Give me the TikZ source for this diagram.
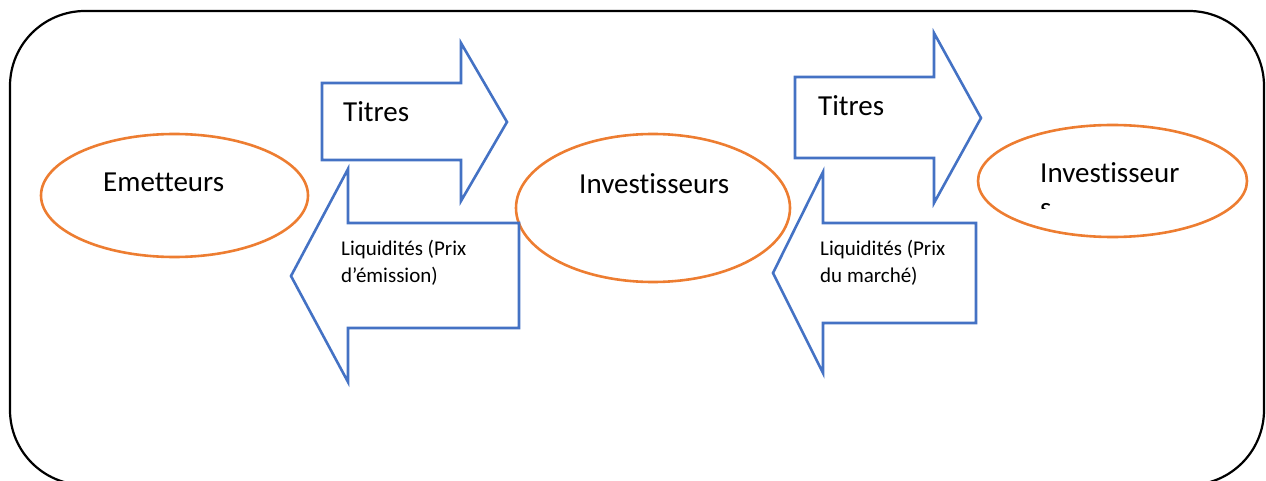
\documentclass[tikz,border=0pt]{standalone}
\usepackage{fontspec}
\setmainfont{Carlito}[Ligatures=NoCommon]
\usepackage{tikz}
\usetikzlibrary{shapes.geometric}
\definecolor{orangeline}{HTML}{ED7D31}
\definecolor{blueline}{HTML}{4472C4}

\begin{document}
\begin{tikzpicture}[x=1pt, y=-1pt,
                blob/.style={draw=orangeline, line width=2.6pt, ellipse, inner sep=0pt},
                flow/.style={draw=blueline, line width=2.6pt, line join=miter},
                big/.style={font=\fontsize{29}{35}\selectfont, inner sep=0pt, anchor=base west},
                small/.style={font=\fontsize{21}{27}\selectfont, inner sep=0pt, anchor=base west, align=left}]
                \useasboundingbox (0,0) rectangle (1266,481);
                \draw[line width=2.2pt, rounded corners=75pt] (10,11) rectangle (1264,485);
                \node[blob, minimum width=267pt, minimum height=123pt] (emet) at (174.5,195.5) {};
                \node[blob, minimum width=274pt, minimum height=148pt] (inv) at (653,208) {};
                \node[blob, minimum width=269pt, minimum height=112pt] (invsec) at (1112.5,181) {};
                \draw[flow] (322,83) -- (461,83) -- (461,43) -- (507,122) -- (461,201) -- (461,160) -- (322,160) -- cycle;
                \draw[flow] (519,223) -- (348,223) -- (348,169) -- (291,276) -- (348,382) -- (348,328) -- (519,328) -- cycle;
                \draw[flow] (795,77) -- (934,77) -- (934,33) -- (981,118) -- (934,203) -- (934,158) -- (795,158) -- cycle;
                \draw[flow] (976,223) -- (823,223) -- (823,172) -- (773,273) -- (823,373) -- (823,323) -- (976,323) -- cycle;
                \node[big] (titresa) at (343,122) {Titres};
                \node[big] (titresb) at (818,116) {Titres};
                \node[big] (emettxt) at (103,192) {Emetteurs};
                \node[big] (invtxt) at (579,194) {Investisseurs};
                \begin{scope}
                    \clip (1000,140) rectangle (1220,209);
                    \node[big, align=left] (invsectxt) at (1040,218) {Investisseur\\s};
                \end{scope}
                \node[small] (liqa) at (341,282) {Liquidités (Prix\\d’émission)};
                \node[small] (liqb) at (820,282) {Liquidités (Prix\\du marché)};
            \end{tikzpicture}
\end{document}
